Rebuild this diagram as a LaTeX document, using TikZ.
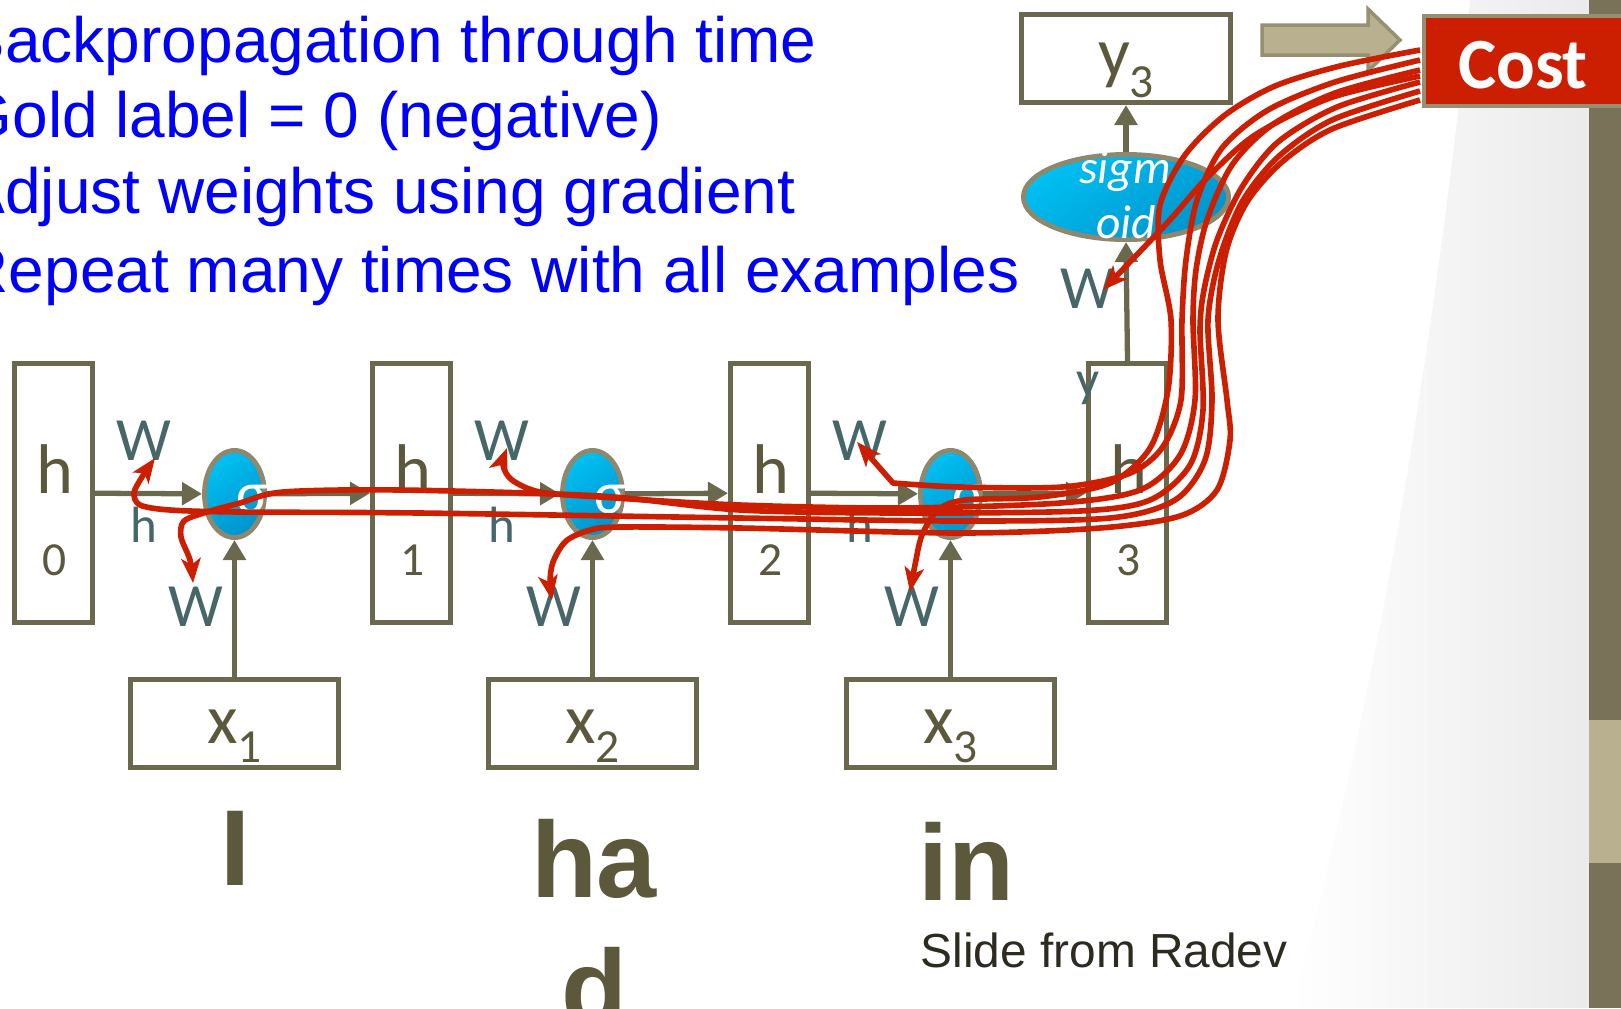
\documentclass[tikz,border=0pt]{standalone}
\usepackage{fontspec}
\setmainfont{Liberation Sans}
\newfontfamily\calfont{Carlito}
\usetikzlibrary{arrows.meta,shapes.geometric,calc}
\definecolor{olive}{RGB}{107,105,77}
\definecolor{olivetxt}{RGB}{91,88,60}
\definecolor{wteal}{RGB}{70,102,104}
\definecolor{cyanA}{RGB}{0,192,242}
\definecolor{cyanB}{RGB}{0,148,204}
\definecolor{tanb}{RGB}{142,136,110}
\definecolor{bluetxt}{RGB}{0,0,250}
\definecolor{redln}{RGB}{204,30,0}
\definecolor{tanfill}{RGB}{184,176,142}
\definecolor{tanline}{RGB}{150,144,115}
\definecolor{barc}{RGB}{122,113,89}
\definecolor{credit}{RGB}{45,42,32}

\begin{document}
\begin{tikzpicture}[x=0.01cm, y=-0.01cm,
    hbox/.style={draw=olive, line width=1.4pt, minimum width=0.78cm, minimum height=2.59cm, inner sep=0pt},
    xbox/.style={draw=olive, line width=1.4pt, fill=white, minimum width=2.08cm, minimum height=0.88cm, inner sep=0pt},
    sig/.style={ellipse, draw=tanb, line width=1.4pt, top color=cyanA, bottom color=cyanB, shading angle=35,
                minimum width=0.6cm, minimum height=0.87cm, inner sep=0pt},
    lbl/.style={font=\calfont\fontsize{20}{24}\selectfont, text=olivetxt, inner sep=0pt, anchor=base},
    num/.style={font=\calfont\fontsize{13.5}{16}\selectfont, text=olivetxt, inner sep=0pt, anchor=base},
    wlbl/.style={font=\calfont\fontsize{17.5}{20}\selectfont, text=wteal, inner sep=0pt, anchor=base},
    wsub/.style={font=\calfont\fontsize{14.5}{17}\selectfont, text=wteal, inner sep=0pt, anchor=base},
    sigtxt/.style={font=\calfont\fontsize{17}{20}\selectfont, text=white, inner sep=0pt, anchor=base},
    oidtxt/.style={font=\calfont\itshape\fontsize{13.5}{16}\selectfont, text=white, inner sep=0pt, anchor=base},
    blueline/.style={font=\fontsize{18.2}{22}\selectfont, text=bluetxt, inner sep=0pt, anchor=base west},
    word/.style={font=\bfseries\fontsize{30.7}{36}\selectfont, text=olivetxt, inner sep=0pt, anchor=base},
    arr/.style={-{Triangle[length=5.7pt,width=6.3pt]}, olive, line width=1.5pt},
    grad/.style={-{Stealth[length=7pt,width=5.5pt,inset=1.8pt]}, redln, line width=1.6pt, line join=round}]

    \useasboundingbox (0,0) rectangle (1621,1008);

    % slide background on the right
    \shade[left color=white, right color=black!8] (1290,1008) .. controls (1380,700) and (1440,300) .. (1470,0)
        -- (1589,0) -- (1589,1008) -- cycle;
    \fill[barc] (1589,0) rectangle (1621,1008);
    \fill[tanfill] (1589,720) rectangle (1621,863);

    % bullet text
    \node[blueline] (t1) at (-38,62) {Backpropagation through time};
    \node[blueline] (t2) at (-38,137) {Gold label = 0 (negative)};
    \node[blueline] (t3) at (-38,213) {Adjust weights using gradient};
    \node[blueline] (t4) at (-38,292) {Repeat many times with all examples};

    % hidden states
    \node[hbox] (h0) at (53.5,493) {};
    \node[hbox] (h1) at (411.5,493) {};
    \node[hbox] (h2) at (769.5,493) {};
    \node[hbox] (h3) at (1127.5,493) {};
    \node[lbl] (h0a) at (55,493) {h};     \node[num] (h0b) at (55,575) {0};
    \node[lbl] (h1a) at (413,493) {h};    \node[num] (h1b) at (413,575) {1};
    \node[lbl] (h2a) at (771,493) {h};    \node[num] (h2b) at (771,575) {2};
    \node[lbl] (h3a) at (1129,493) {h};   \node[num] (h3b) at (1129,575) {3};

    % sigma units
    \node[sig] (s1) at (234.5,494) {};
    \node[sig] (s2) at (592.5,494) {};
    \node[sig] (s3) at (950.5,494) {};
    \node[sigtxt] (s1t) at (252,513) {σ};
    \node[sigtxt] (s2t) at (610,513) {σ};
    \node[sigtxt] (s3t) at (968,513) {σ};

    % inputs
    \node[xbox] (x1) at (234.5,723.5) {};
    \node[xbox] (x2) at (592.5,723.5) {};
    \node[xbox] (x3) at (950.5,723.5) {};
    \node[lbl] (x1t) at (234.5,743) {x\lower5.4pt\hbox{\fontsize{13.5}{16}\selectfont 1}};
    \node[lbl] (x2t) at (592.5,743) {x\lower5.4pt\hbox{\fontsize{13.5}{16}\selectfont 2}};
    \node[lbl] (x3t) at (950.5,743) {x\lower5.4pt\hbox{\fontsize{13.5}{16}\selectfont 3}};

    % weights
    \node[wlbl] (wa1) at (144,460) {W};  \node[wsub] (wa1s) at (144,542) {h};  \node[wlbl] (wb1) at (196,626) {W};
    \node[wlbl] (wa2) at (502,460) {W};  \node[wsub] (wa2s) at (502,542) {h};  \node[wlbl] (wb2) at (554,626) {W};
    \node[wlbl] (wa3) at (860,460) {W};  \node[wsub] (wa3s) at (860,542) {h};  \node[wlbl] (wb3) at (912,626) {W};
    \node[wlbl] (wy) at (1088,308) {W};  \node[wsub] (wys) at (1088,396) {y};

    % output
    \node[sig, minimum width=2.05cm, minimum height=0.85cm] (sg) at (1126,197) {};
    \node[oidtxt] (sg1) at (1125,183) {sigm};
    \node[oidtxt] (sg2) at (1126,238) {oid};
    \node[xbox] (y3) at (1126,58.5) {};
    \node[lbl] (y3t) at (1126,76) {y\lower6.2pt\hbox{\fontsize{13.5}{16}\selectfont 3}};

    \draw[arr] (h0) -- (s1);
    \draw[arr] (s1) -- (h1);
    \draw[arr] (h1) -- (s2);
    \draw[arr] (s2) -- (h2);
    \draw[arr] (h2) -- (s3);
    \draw[arr] (s3) -- (h3);
    \draw[arr] (x1) -- (s1);
    \draw[arr] (x2) -- (s2);
    \draw[arr] (x3) -- (s3);
    \draw[arr] (h3.north) -- (sg.south);
    \draw[arr] (sg) -- (y3);

    % cost
    \draw[fill=tanfill, draw=tanline, line width=1pt] (1262,25) -- (1368,25) -- (1368,9) -- (1400,40)
        -- (1368,71) -- (1368,55) -- (1262,55) -- cycle;
    \node[draw=tanline, line width=1.2pt, fill=redln, minimum width=2.1cm, minimum height=0.9cm,
          inner sep=0pt, anchor=north west] (cost) at (1422,14) {};
    \node[font=\calfont\bfseries\fontsize{20.5}{24}\selectfont, text=white, inner sep=0pt, anchor=base] (costt) at (1523,88) {Cost};

    % words
    \node[word] (w1) at (235,885) {I};
    \node[word] (w2) at (594,897) {ha};
    \node[word] (w2b) at (594,1025) {d};
    \node[word] (w3) at (966,900) {in};
    \node[font=\fontsize{13.6}{16}\selectfont, text=credit, inner sep=0pt, anchor=base west] (src) at (920,967) {Slide from Radev};

    % gradient strokes
    \coordinate (c1) at (1420,50);
    \coordinate (c2) at (1420,60);
    \coordinate (c3) at (1420,70);
    \coordinate (c4) at (1420,76);
    \coordinate (c5) at (1420,82);
    \coordinate (c6) at (1420,91);
    \coordinate (c7) at (1420,100);
    \coordinate (tipy) at (1103,290);
    \coordinate (tipx3) at (910,592);
    \coordinate (tiph3) at (857,442);
    \coordinate (tiph2) at (507,448);
    \coordinate (tipx2) at (552,600);
    \coordinate (tiph1) at (155,458);
    \coordinate (tipx1) at (193,583);

    \draw[grad] plot[smooth] coordinates {(c4) (1330,98) (1255,135) (1205,180) (1168,222) (tipy)};
    \draw[grad] plot[smooth] coordinates {(c1) (1340,66) (1275,86) (1225,115) (1185,155) (1160,205) (1160,260)
        (1171,320) (1168,390) (1150,448) (1110,483) (1040,497) (965,500) (938,510) (922,535) (915,565) (tipx3)};
    \draw[grad] plot[smooth] coordinates {(c2) (1335,82) (1268,110) (1222,148) (1197,200) (1186,260) (1182,320)
        (1181,400) (1162,448) (1128,474) (1062,487) (960,487) (893,483)} -- (tiph3);
    \draw[grad] plot[smooth] coordinates {(c3) (1335,93) (1272,125) (1232,165) (1207,220) (1196,270) (1193,320)
        (1195,400) (1180,455) (1140,490) (1060,503) (900,508) (740,505) (600,497) (540,492) (512,480) (503,465) (tiph2)};
    \draw[grad] plot[smooth] coordinates {(c5) (1337,107) (1278,142) (1242,187) (1217,240) (1204,290) (1200,330)
        (1203,410) (1190,465) (1150,500) (1080,511) (900,513) (740,510) (600,496) (400,490) (283,492) (240,503)
        (207,512) (184,521) (181,537) (190,560) (tipx1)};
    \draw[grad] plot[smooth] coordinates {(c6) (1332,120) (1278,157) (1242,202) (1219,260) (1208,320) (1212,400)
        (1205,460) (1175,500) (1110,518) (960,521) (740,518) (420,513) (240,512) (170,510) (140,505) (134,493)
        (142,477) (tiph1)};
    \draw[grad] plot[smooth] coordinates {(c7) (1332,129) (1282,162) (1247,202) (1226,252) (1218,320) (1227,400)
        (1230,440) (1217,490) (1180,516) (1100,528) (960,533) (740,528) (620,527) (590,530) (566,541) (553,562)
        (550,582) (tipx2)};
\end{tikzpicture}
\end{document}
